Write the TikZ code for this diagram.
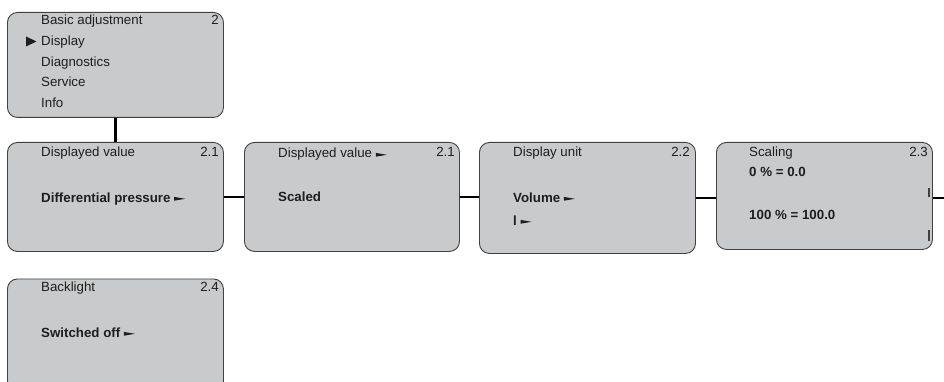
\documentclass[tikz,border=0pt]{standalone}
\usepackage{fontspec}
\setmainfont{Liberation Sans}
\definecolor{boxfill}{HTML}{C9CACC}
\definecolor{boxline}{HTML}{404040}
\definecolor{txt}{HTML}{1E1E1E}
\newcommand{\ptr}{\ \tikz[baseline=-3.2pt]\fill[txt] (0,-1.9pt) -- (11pt,0) -- (0,1.9pt) -- cycle;}
\begin{document}
\begin{tikzpicture}[x=1pt,y={(0,-1pt)},
  box/.style={draw=boxline, fill=boxfill, line width=0.9pt, rounded corners=10pt, anchor=north west, inner sep=0pt},
  lbl/.style={anchor=base west, inner sep=0pt, text=txt, font=\fontsize{13.3}{16}\selectfont},
  num/.style={anchor=base east, inner sep=0pt, text=txt, font=\fontsize{13.3}{16}\selectfont},
  val/.style={anchor=base west, inner sep=0pt, text=txt, font=\fontsize{13.3}{16}\selectfont\bfseries},
  link/.style={draw=black, line width=2.4pt}]
\useasboundingbox (0,0) rectangle (944,382);
\begin{scope}
\clip (0,0) rectangle (944,382);
% boxes
\node[box, minimum width=216pt, minimum height=105pt] (b1) at (7,12) {};
\node[box, minimum width=216pt, minimum height=109pt] (b2) at (7,142) {};
\node[box, minimum width=215pt, minimum height=109pt] (b3) at (244,142) {};
\node[box, minimum width=216pt, minimum height=111pt] (b4) at (479,142) {};
\node[box, minimum width=216pt, minimum height=107pt] (b5) at (716,142) {};
\node[box, minimum width=216pt, minimum height=112pt] (b6) at (7,278.5) {};
\end{scope}
% connectors
\coordinate (rend) at (944,198);
\draw[link] (b1.south) -- (b2.north);
\draw[link] (b2.east) -- (b3.west);
\draw[link] (b3.east) -- (b3.east -| b4.west);
\draw[link] (b4.east |- rend) -- (b5.west |- rend);
\draw[link] (b5.east |- rend) -- (rend);
% scroll marks
\draw[boxline, line width=1.2pt] (929,188) -- (929,197);
\draw[boxline, line width=1.2pt] (929,230) -- (929,241);
% box 1
\node[lbl] (t11) at (41,25) {Basic adjustment};
\node[num] (n1) at (219,25) {2};
\node[lbl] (t12) at (41,45.7) {Display};
\fill[txt] (26,36.5) -- (36.5,41.5) -- (26,46.5) -- cycle;
\node[lbl] (t13) at (41,66.3) {Diagnostics};
\node[lbl] (t14) at (41,87) {Service};
\node[lbl] (t15) at (41,107.7) {Info};
% box 2
\node[lbl] (t21) at (41,157) {Displayed value};
\node[num] (n2) at (219,157) {2.1};
\node[val] (t22) at (41,202) {Differential pressure\ptr};
% box 3
\node[lbl] (t31) at (278,158) {Displayed value\ptr};
\node[num] (n3) at (455,157) {2.1};
\node[val] (t32) at (278,201) {Scaled};
% box 4
\node[lbl] (t41) at (513,157) {Display unit};
\node[num] (n4) at (690,157) {2.2};
\node[val] (t42) at (513,202) {Volume\ptr};
\node[val] (t43) at (513,225) {l\ptr};
% box 5
\node[lbl] (t51) at (749,157) {Scaling};
\node[num] (n5) at (928,157) {2.3};
\node[val] (t52) at (749,177) {0 \% = 0.0};
\node[val] (t53) at (749,219) {100 \% = 100.0};
% box 6
\node[lbl] (t61) at (41,291) {Backlight};
\node[num] (n6) at (219,291) {2.4};
\node[val] (t62) at (41,337) {Switched off\ptr};
\end{tikzpicture}
\end{document}
